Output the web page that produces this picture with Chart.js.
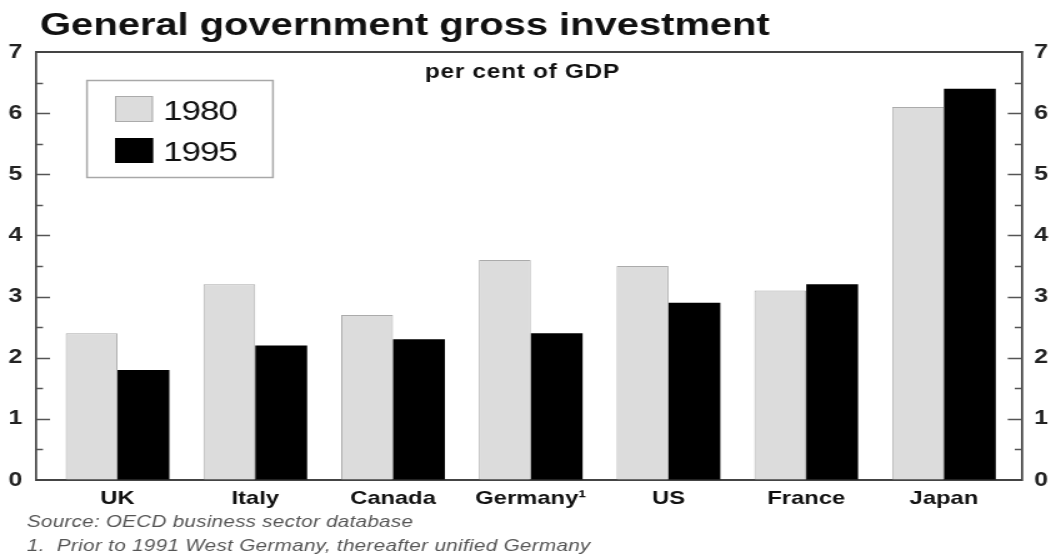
<!DOCTYPE html>
<html><head><meta charset="utf-8">
<script src="https://cdn.jsdelivr.net/npm/chart.js@4"></script>
<style>
html,body{margin:0;padding:0;background:#fff;overflow:hidden;width:1056px;height:559px;}
#wrap{position:absolute;left:0;top:0;width:845px;height:559px;transform:scaleX(1.2497);transform-origin:0 0;}
canvas{display:block;}
</style></head><body>
<div id="wrap"><canvas id="c" width="845" height="559"></canvas></div>
<script>
// ---- data ----
const categories = ['UK', 'Italy', 'Canada', 'Germany\u00B9', 'US', 'France', 'Japan'];
const values1980 = [2.4, 3.2, 2.7, 3.6, 3.5, 3.1, 6.1];
const values1995 = [1.8, 2.2, 2.3, 2.4, 2.9, 3.2, 6.4];
const seriesLabels = ['1980', '1995'];
const yMin = 0, yMax = 7, yStep = 1;
const titleText = 'General government gross investment';
const subtitleText = 'per cent of GDP';
const sourceText = 'Source: OECD business sector database';
const noteText = '1.  Prior to 1991 West Germany, thereafter unified Germany';

const FAMILY = '"Liberation Sans", Arial, Helvetica, sans-serif';
const colors = ['#dcdcdc', '#000000'];
const borders = ['#ababab', '#000000'];

function fitText(ctx, text, x, y, font, target, color) {
  ctx.save();
  ctx.font = font;
  if ('letterSpacing' in ctx) ctx.letterSpacing = '0px';
  const w = ctx.measureText(text).width;
  const n = [...text].length;
  if (target && 'letterSpacing' in ctx) ctx.letterSpacing = ((target - w) / n) + 'px';
  ctx.fillStyle = color || '#000';
  ctx.textAlign = 'left';
  ctx.textBaseline = 'alphabetic';
  ctx.fillText(text, x, y);
  ctx.restore();
}

const deco = {
  id: 'deco',
  afterDraw(chart) {
    const ctx = chart.ctx;
    const ca = chart.chartArea;
    const ys = chart.scales.y;
    ctx.save();
    ctx.strokeStyle = '#444';
    ctx.lineWidth = 2;
    ctx.beginPath();
    ctx.moveTo(ca.left - 0.8, ca.top);
    ctx.lineTo(ca.right + 0.8, ca.top);
    ctx.stroke();
    ctx.strokeStyle = '#555';
    ctx.lineWidth = 1.5;
    for (let v = yMin + yStep / 2; v < yMax; v += yStep / 2) {
      const py = Math.round(ys.getPixelForValue(v)) + 0.5;
      const len = Math.abs(v - Math.round(v)) < 1e-9 ? 11.2 : 5.6;
      ctx.beginPath();
      ctx.moveTo(ca.left, py); ctx.lineTo(ca.left + len, py);
      ctx.moveTo(ca.right, py); ctx.lineTo(ca.right - len, py);
      ctx.stroke();
    }
    ctx.restore();

    fitText(ctx, titleText, 32, 35, 'bold 32px ' + FAMILY, 584, '#111');
    fitText(ctx, subtitleText, 340, 78, 'bold 19.5px ' + FAMILY, 156, '#111');

    ctx.save();
    ctx.strokeStyle = '#a8a8a8';
    ctx.lineWidth = 1.5;
    ctx.strokeRect(69.6, 80.5, 148.8, 97);
    const sw = [[96, 26], [138, 25]];
    chart.data.datasets.forEach((ds, i) => {
      ctx.fillStyle = ds.backgroundColor;
      ctx.fillRect(92, sw[i][0], 30.4, sw[i][1]);
      ctx.strokeStyle = ds.borderColor;
      ctx.lineWidth = 1;
      ctx.strokeRect(92.5, sw[i][0] + 0.5, 29.4, sw[i][1] - 1);
      fitText(ctx, ds.label, 130.4, sw[i][0] + sw[i][1] - 2, '28px ' + FAMILY, 59.2, '#111');
    });
    ctx.restore();

    fitText(ctx, sourceText, 21.6, 527, 'italic 16.5px ' + FAMILY, 309, '#555');
    fitText(ctx, noteText, 21.6, 551, 'italic 16.5px ' + FAMILY, 451, '#555');
  }
};

const tickFont = { family: FAMILY, weight: 'bold', size: 20 };

new Chart(document.getElementById('c'), {
  type: 'bar',
  data: {
    datasets: [
      { label: seriesLabels[0], data: values1980.map((v, i) => ({ x: i, y: v })),
        backgroundColor: colors[0], borderColor: borders[0], borderWidth: 1,
        categoryPercentage: 0.753, barPercentage: 1 },
      { label: seriesLabels[1], data: values1995.map((v, i) => ({ x: i, y: v })),
        backgroundColor: colors[1], borderColor: borders[1], borderWidth: 0,
        categoryPercentage: 0.753, barPercentage: 1 }
    ]
  },
  options: {
    responsive: false,
    animation: false,
    devicePixelRatio: 1,
    layout: { padding: { top: 52, left: 0, right: 0, bottom: 0 } },
    plugins: { legend: { display: false }, title: { display: false }, tooltip: { enabled: false } },
    scales: {
      x: {
        type: 'linear', min: -0.592, max: 6.565, offset: false,
        grid: { display: true, drawOnChartArea: false, drawTicks: false },
        border: { display: true, color: '#444', width: 2 },
        ticks: { stepSize: 1, includeBounds: false, autoSkip: false, maxRotation: 0, minRotation: 0,
                 padding: 7, color: '#111', font: { family: FAMILY, weight: 'bold', size: 19 },
                 callback: (v) => categories[v] !== undefined ? categories[v] : '' },
        afterBuildTicks: (s) => { s.ticks = categories.map((c, i) => ({ value: i })); },
        afterFit: (s) => { s.height = 79; }
      },
      y: {
        position: 'left', min: yMin, max: yMax,
        grid: { display: true, drawOnChartArea: false, drawTicks: false },
        border: { display: true, color: '#444', width: 1.7 },
        ticks: { stepSize: yStep, padding: 11, color: '#222', font: tickFont },
        afterFit: (s) => { s.width = 28.8; }
      },
      y2: {
        position: 'right', min: yMin, max: yMax,
        grid: { display: true, drawOnChartArea: false, drawTicks: false },
        border: { display: true, color: '#444', width: 1.7 },
        ticks: { stepSize: yStep, padding: 10, color: '#222', font: tickFont },
        afterFit: (s) => { s.width = 27.4; }
      }
    }
  },
  plugins: [deco]
});
</script>
</body></html>
